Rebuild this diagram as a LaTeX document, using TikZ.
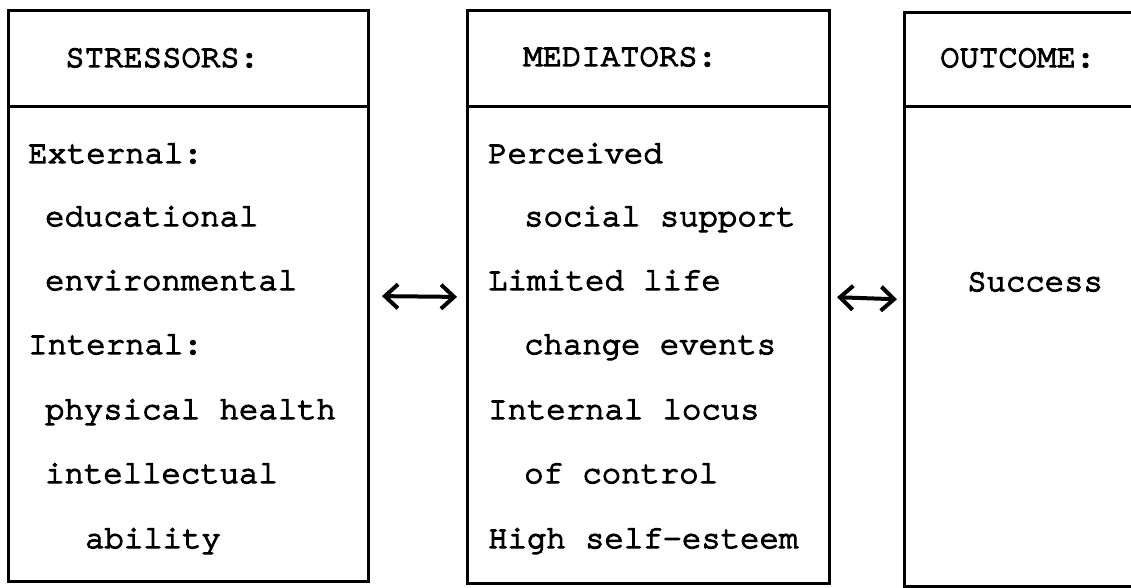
\documentclass[tikz,border=0pt]{standalone}
\usepackage{fontspec}
\newfontfamily\tw{TeX Gyre Cursor}[FakeBold=4]
\usetikzlibrary{arrows.meta}
\begin{document}
\begin{tikzpicture}[x=1pt,y=-1pt,
  box/.style={draw,line width=3pt,rectangle,inner sep=0pt,anchor=north west},
  divider/.style={line width=3pt},
  txt/.style={anchor=base west,inner sep=0pt,font=\tw\fontsize{32.3}{32}\selectfont},
  link/.style={line width=4pt,
    {Straight Barb[length=13pt,width=24pt,line width=4pt]}-{Straight Barb[length=13pt,width=24pt,line width=4pt]}}]
\useasboundingbox (0,0) rectangle (1131,588);
\clip (0,0) rectangle (1131,588);
% boxes
\node[box,minimum width=360pt,minimum height=571pt] (sbox) at (7,9) {};
\node[box,minimum width=362pt,minimum height=573pt] (mbox) at (466,9) {};
\node[box,minimum width=300pt,minimum height=574pt] (obox) at (903,11) {};
\draw[divider] (sbox.west |- 0,107) -- (sbox.east |- 0,107);
\draw[divider] (mbox.west |- 0,107) -- (mbox.east |- 0,107);
\draw[divider] (obox.west |- 0,107) -- (obox.east |- 0,107);
% arrows
\draw[link,shorten <=12pt,shorten >=9pt] (sbox.east) -- (mbox.west);
\draw[link,shorten <=6pt,shorten >=6pt] (mbox.east) -- (obox.west);
% headers
\node[txt] (sh) at (65,67) {STRESSORS:};
\node[txt] (mh) at (523,66) {MEDIATORS:};
\node[txt] (oh) at (940,67) {OUTCOME:};
% stressors
\node[txt] (s1) at (28,163) {External:};
\node[txt] (s2) at (45,226) {educational};
\node[txt] (s3) at (45,290) {environmental};
\node[txt] (s4) at (28,354) {Internal:};
\node[txt] (s5) at (45,419) {physical health};
\node[txt] (s6) at (45,483) {intellectual};
\node[txt] (s7) at (85,548) {ability};
% mediators
\node[txt] (m1) at (488,163) {Perceived};
\node[txt] (m2) at (524,226) {social support};
\node[txt] (m3) at (488,290) {Limited life};
\node[txt] (m4) at (524,354) {change events};
\node[txt] (m5) at (488,419) {Internal locus};
\node[txt] (m6) at (524,483) {of control};
\node[txt] (m7) at (488,548) {High self-esteem};
% outcome
\node[txt] (o1) at (967,291) {Success};
\end{tikzpicture}
\end{document}
